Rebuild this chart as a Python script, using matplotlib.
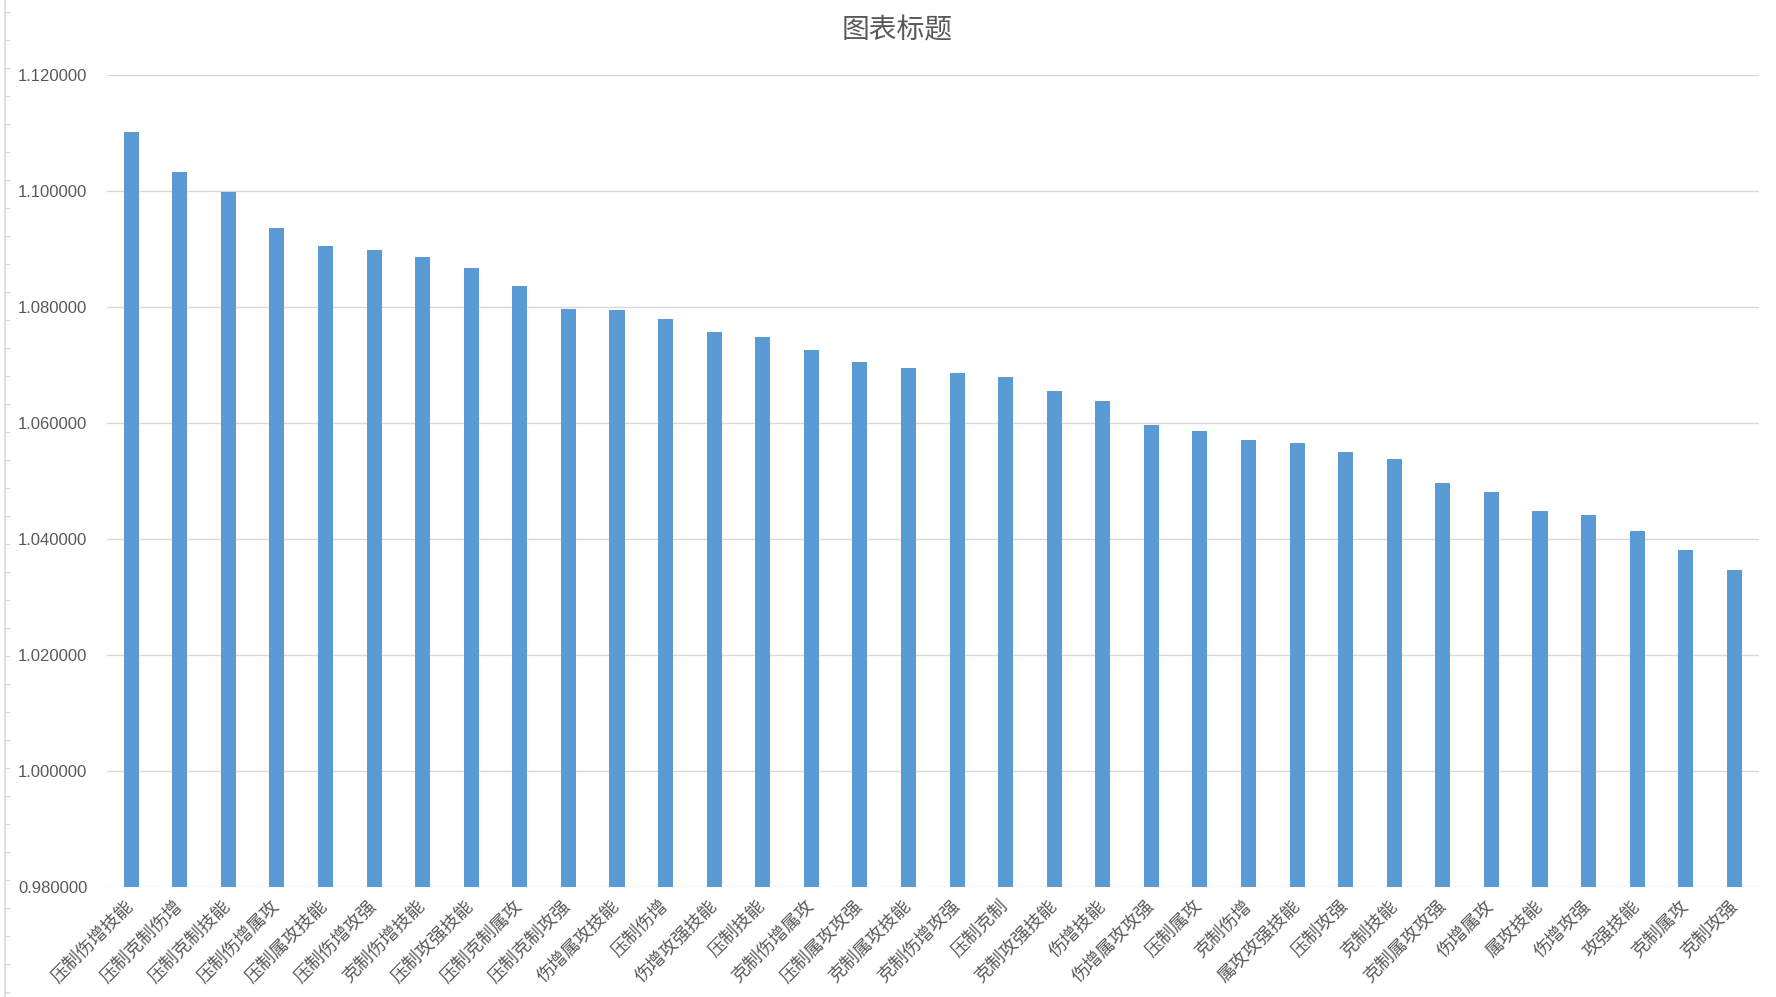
import matplotlib.pyplot as plt
from matplotlib.lines import Line2D
import numpy as np

plt.rcParams['font.family'] = ['Noto Sans CJK SC', 'DejaVu Sans']

labels = ['压制伤增技能', '压制克制伤增', '压制克制技能', '压制伤增属攻', '压制属攻技能',
          '压制伤增攻强', '克制伤增技能', '压制攻强技能', '压制克制属攻', '压制克制攻强',
          '伤增属攻技能', '压制伤增', '伤增攻强技能', '压制技能', '克制伤增属攻',
          '压制属攻攻强', '克制属攻技能', '克制伤增攻强', '压制克制', '克制攻强技能',
          '伤增技能', '伤增属攻攻强', '压制属攻', '克制伤增', '属攻攻强技能',
          '压制攻强', '克制技能', '克制属攻攻强', '伤增属攻', '属攻技能',
          '伤增攻强', '攻强技能', '克制属攻', '克制攻强']
valores = [1.1102, 1.1032, 1.0999, 1.0936, 1.0906,
           1.0898, 1.0887, 1.0867, 1.0836, 1.0797,
           1.0795, 1.0779, 1.0757, 1.0748, 1.0726,
           1.0705, 1.0695, 1.0687, 1.0679, 1.0656,
           1.0638, 1.0597, 1.0587, 1.0570, 1.0566,
           1.0550, 1.0538, 1.0497, 1.0481, 1.0448,
           1.0442, 1.0413, 1.0381, 1.0346]
yticks = [0.98, 1.00, 1.02, 1.04, 1.06, 1.08, 1.10, 1.12]

cinza = '#595959'

fig = plt.figure(figsize=(17.76, 9.97), dpi=100)
ax = fig.add_axes([0.0602, 0.1103, 0.9300, 0.8145])

x = np.arange(len(labels))
ax.bar(x, np.array(valores) - 0.98, bottom=0.98, width=0.31, color='#5B9BD5', zorder=3)

ax.set_xlim(-0.5, len(labels) - 0.5)
ax.set_ylim(0.98, 1.12)
ax.set_yticks(yticks)
ax.set_yticklabels(['%.6f' % v for v in yticks], family='Liberation Sans', fontsize=12, color=cinza)
ax.set_xticks(x)
ax.set_xticklabels(labels, rotation=45, ha='right', va='center', rotation_mode='anchor',
                   fontsize=13, color=cinza)
ax.tick_params(axis='y', length=0, pad=14)
ax.tick_params(axis='x', length=0, pad=12)
ax.grid(axis='y', color='#D9D9D9', linewidth=1.0, zorder=0)
for s in ax.spines.values():
    s.set_visible(False)

fig.text(0.505, 0.969, '图表标题', ha='center', va='center', fontsize=20, color=cinza)

# borda da planilha à esquerda
fig.add_artist(Line2D([5 / 1776, 5 / 1776], [0, 1], color='#D9D9D9', linewidth=1.2))
for yy in np.arange(12, 997, 28):
    fig.add_artist(Line2D([5 / 1776, 9 / 1776], [1 - yy / 997, 1 - yy / 997],
                          color='#D9D9D9', linewidth=1.0))

fig.savefig('out.png', dpi=100)
